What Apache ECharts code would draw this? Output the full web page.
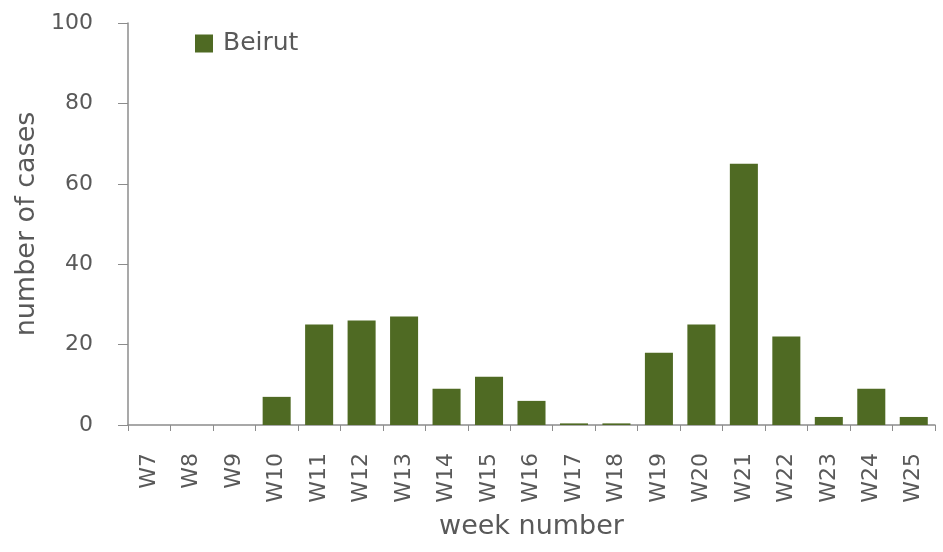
<!DOCTYPE html>
<html>
<head>
<meta charset="utf-8">
<script src="https://cdn.jsdelivr.net/npm/echarts@6/dist/echarts.min.js"></script>
<style>
html, body { margin: 0; padding: 0; background: #fff; }
#main { width: 943px; height: 552px; }
</style>
</head>
<body>
<div id="main"></div>
<script>
// weeks and counts
var weeks = ['W7', 'W8', 'W9', 'W10', 'W11', 'W12', 'W13', 'W14', 'W15', 'W16',
             'W17', 'W18', 'W19', 'W20', 'W21', 'W22', 'W23', 'W24', 'W25'];
var beirut = [0, 0, 0, 7, 25, 26, 27, 9, 12, 6, 0.4, 0.4, 18, 25, 65, 22, 2, 9, 2];
var yTicks = [0, 20, 40, 60, 80, 100];

var myChart = echarts.init(document.getElementById('main'));

var textColor = '#595959';
var axisColor = '#8c8c8c';
var font = 'DejaVu Sans';

myChart.setOption({
    animation: false,
    textStyle: { fontFamily: font },
    legend: {
        left: 190,
        top: 26,
        icon: 'rect',
        itemWidth: 18,
        itemHeight: 18,
        itemGap: 8,
        textStyle: { color: textColor, fontSize: 25, fontFamily: font, padding: [0, 0, 0, 5] },
        data: ['Beirut']
    },
    grid: { left: 128, right: 8, top: 23, bottom: 127, outerBoundsMode: 'none' },
    xAxis: {
        type: 'category',
        data: weeks,
        name: 'week number',
        nameLocation: 'middle',
        nameGap: 88,
        nameTextStyle: { color: textColor, fontSize: 27 },
        axisLine: { lineStyle: { color: axisColor, width: 1.5 } },
        axisTick: { show: true, length: 6, lineStyle: { color: axisColor } },
        axisLabel: { rotate: 90, color: textColor, fontSize: 22, margin: 28, interval: 0 }
    },
    yAxis: {
        type: 'value',
        min: 0,
        max: 100,
        interval: 20,
        name: 'number of cases',
        nameLocation: 'middle',
        nameGap: 86,
        nameTextStyle: { color: textColor, fontSize: 27 },
        splitLine: { show: false },
        axisLine: { show: true, lineStyle: { color: axisColor, width: 1.5 } },
        axisTick: { show: true, length: 10, inside: false, lineStyle: { color: axisColor } },
        axisLabel: {
            color: textColor, fontSize: 22, margin: 35,
            formatter: function (v) { return yTicks.indexOf(v) >= 0 ? String(v) : ''; }
        }
    },
    series: [{
        name: 'Beirut',
        type: 'bar',
        data: beirut,
        barCategoryGap: '34%',
        itemStyle: { color: '#4f6a23' }
    }]
});
</script>
</body>
</html>
